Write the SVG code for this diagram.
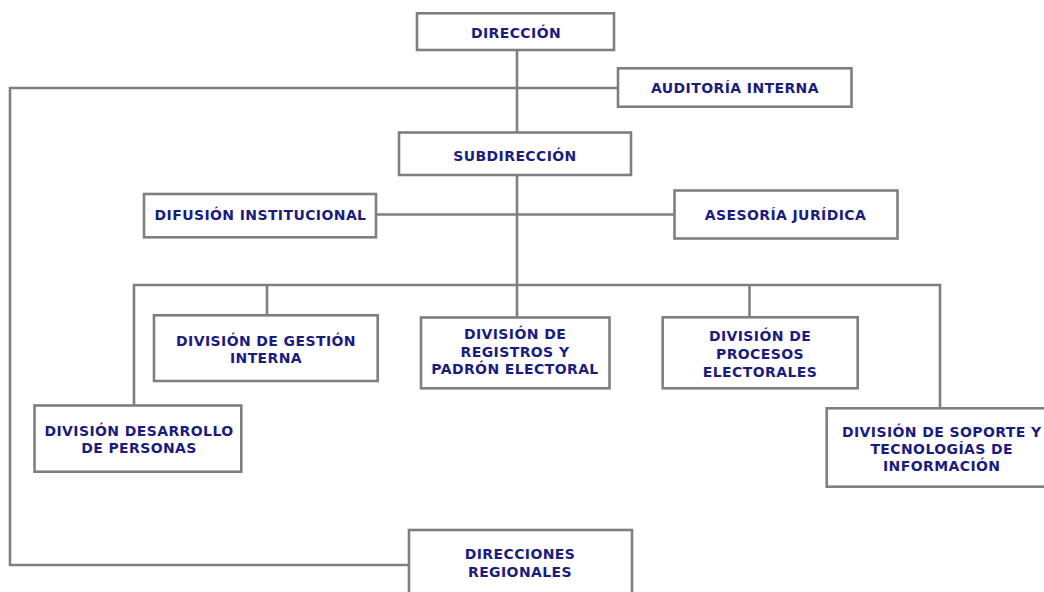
<svg xmlns="http://www.w3.org/2000/svg" width="1044" height="592" viewBox="0 0 1044 592">
<style>
  .box { fill: #ffffff; stroke: #7f7f7f; stroke-width: 2.6; }
  .conn { fill: none; stroke: #7f7f7f; stroke-width: 2.6; }
  .lbl { font-family: "DejaVu Sans", Verdana, sans-serif; font-weight: bold; font-size: 14px; letter-spacing: 0.4px; fill: #1c1c7e; text-anchor: middle; }
</style>
<rect width="1044" height="592" fill="#ffffff"/>
<g id="connectors">
  <path class="conn" d="M517 50 V133"/>
  <path class="conn" d="M618 88 H10 V565 H409"/>
  <path class="conn" d="M517 175 V318"/>
  <path class="conn" d="M376 214.5 H675"/>
  <path class="conn" d="M134 406 V285 H940 V408"/>
  <path class="conn" d="M267 285 V315"/>
  <path class="conn" d="M749.5 285 V317"/>
</g>
<g id="direccion">
  <rect class="box" x="417" y="13.3" width="197" height="36.7"/>
  <text class="lbl" x="516" y="37.5">DIRECCIÓN</text>
</g>
<g id="auditoria">
  <rect class="box" x="618" y="68.3" width="233.5" height="38.4"/>
  <text class="lbl" x="735" y="92.7">AUDITORÍA INTERNA</text>
</g>
<g id="subdireccion">
  <rect class="box" x="399" y="132.5" width="232" height="42.5"/>
  <text class="lbl" x="515" y="161">SUBDIRECCIÓN</text>
</g>
<g id="difusion">
  <rect class="box" x="144" y="194" width="232" height="43.3"/>
  <text class="lbl" x="260.5" y="220">DIFUSIÓN INSTITUCIONAL</text>
</g>
<g id="asesoria">
  <rect class="box" x="674.5" y="190.5" width="223" height="48"/>
  <text class="lbl" x="785.5" y="220">ASESORÍA JURÍDICA</text>
</g>
<g id="gestion">
  <rect class="box" x="154" y="315.3" width="223.7" height="65.7"/>
  <text class="lbl" x="266" y="345.7">DIVISIÓN DE GESTIÓN</text>
  <text class="lbl" x="266" y="363.3">INTERNA</text>
</g>
<g id="registros">
  <rect class="box" x="421" y="317.5" width="188.5" height="70.8"/>
  <text class="lbl" x="515" y="339.3">DIVISIÓN DE</text>
  <text class="lbl" x="515" y="356.9">REGISTROS Y</text>
  <text class="lbl" x="515" y="374.4">PADRÓN ELECTORAL</text>
</g>
<g id="procesos">
  <rect class="box" x="662.7" y="317.3" width="195" height="71"/>
  <text class="lbl" x="760" y="341">DIVISIÓN DE</text>
  <text class="lbl" x="760" y="358.8">PROCESOS</text>
  <text class="lbl" x="760" y="376.6">ELECTORALES</text>
</g>
<g id="desarrollo">
  <rect class="box" x="34.5" y="405.5" width="206.8" height="66.2"/>
  <text class="lbl" x="139" y="435.7">DIVISIÓN DESARROLLO</text>
  <text class="lbl" x="139" y="452.7">DE PERSONAS</text>
</g>
<g id="soporte">
  <rect class="box" x="826.7" y="408.3" width="230" height="78.4"/>
  <text class="lbl" x="941.7" y="436.7">DIVISIÓN DE SOPORTE Y</text>
  <text class="lbl" x="941.7" y="454">TECNOLOGÍAS DE</text>
  <text class="lbl" x="941.7" y="471">INFORMACIÓN</text>
</g>
<g id="regionales">
  <rect class="box" x="409" y="530" width="223" height="80"/>
  <text class="lbl" x="520" y="559">DIRECCIONES</text>
  <text class="lbl" x="520" y="577">REGIONALES</text>
</g>
</svg>
